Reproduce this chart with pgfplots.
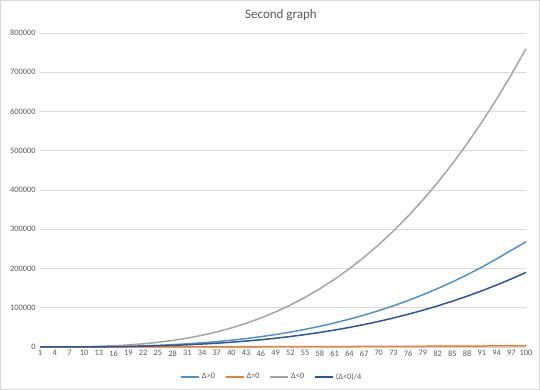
\documentclass[border=0pt]{standalone}
\usepackage{fontspec}
\setmainfont{Carlito}
\usepackage{pgfplots}
\pgfplotsset{compat=1.18}
\definecolor{cpos}{HTML}{5591C4}
\definecolor{czero}{HTML}{ED7D31}
\definecolor{cneg}{HTML}{A5A5A5}
\definecolor{cquart}{HTML}{2F5597}
\definecolor{txt}{HTML}{595959}
\definecolor{grd}{HTML}{D9D9D9}
\begin{document}
\begin{tikzpicture}[x=1pt,y=1pt]
\useasboundingbox (0,0) rectangle (540,390);
\fill[white] (0,0) rectangle (540,390);
\draw[grd,line width=0.8pt] (0.4,0.4) rectangle (539.6,389.6);
\node[txt,font=\fontsize{13}{15}\selectfont] at (281,375) {Second graph};
\begin{axis}[
  at={(40pt,43pt)}, anchor=south west,
  scale only axis, width=486pt, height=314pt,
  xmin=1, xmax=100, ymin=0, ymax=800000,
  xtick={1,4,...,100}, ytick={0,100000,...,800000},
  scaled y ticks=false,
  /pgf/number format/assume math mode=true,
  yticklabel style={/pgf/number format/fixed,/pgf/number format/1000 sep={},font=\fontsize{8.3}{9}\selectfont,text=txt,xshift=-1pt},
  xticklabel style={font=\fontsize{8.3}{9}\selectfont,text=txt},
  ymajorgrids, grid style={grd,line width=0.7pt},
  axis y line*=left, axis x line*=bottom,
  y axis line style={draw=none},
  x axis line style={grd,line width=0.8pt},
  major tick length=0pt,
  xtick style={draw=none}, ytick style={draw=none},
  clip=false,
  legend columns=4,
  legend style={at={(0.477,-0.095)},anchor=center,draw=none,fill=none,
    font=\fontsize{8.3}{9}\selectfont,text=txt,
    /tikz/every even column/.append style={column sep=8pt}},
  legend image code/.code={\draw[#1,line width=1.6pt] (0pt,0pt) -- (18pt,0pt);},
  every axis plot/.append style={line width=1.5pt},
]
\addplot[cpos] coordinates {(1,0)(4,17)(7,93)(10,270)(13,593)(16,1106)(19,1852)(22,2875)(25,4219)(28,5927)(31,8044)(34,10612)(37,13676)(40,17280)(43,21467)(46,26281)(49,31765)(52,37964)(55,44921)(58,52680)(61,61285)(64,70779)(67,81206)(70,92610)(73,105035)(76,118524)(79,133121)(82,148869)(85,165814)(88,183997)(91,203464)(94,224258)(97,246422)(100,268000)};
\addlegendentry{Δ>0}
\addplot[czero] coordinates {(1,0)(4,5)(7,15)(10,30)(13,51)(16,77)(19,108)(22,145)(25,188)(28,235)(31,288)(34,347)(37,411)(40,480)(43,555)(46,635)(49,720)(52,811)(55,908)(58,1009)(61,1116)(64,1229)(67,1347)(70,1470)(73,1599)(76,1733)(79,1872)(82,2017)(85,2168)(88,2323)(91,2484)(94,2651)(97,2823)(100,3000)};
\addlegendentry{Δ=0}
\addplot[cneg] coordinates {(1,1)(4,49)(7,261)(10,760)(13,1670)(16,3113)(19,5213)(22,8092)(25,11875)(28,16684)(31,22641)(34,29871)(37,38496)(40,48640)(43,60425)(46,73975)(49,89413)(52,106862)(55,126445)(58,148285)(61,172506)(64,199229)(67,228580)(70,260680)(73,295653)(76,333622)(79,374710)(82,419040)(85,466735)(88,517919)(91,572714)(94,631244)(97,693631)(100,760000)};
\addlegendentry{Δ<0}
\addplot[cquart] coordinates {(1,0)(4,12)(7,65)(10,190)(13,418)(16,778)(19,1303)(22,2023)(25,2969)(28,4171)(31,5660)(34,7468)(37,9624)(40,12160)(43,15106)(46,18494)(49,22353)(52,26716)(55,31611)(58,37071)(61,43127)(64,49807)(67,57145)(70,65170)(73,73913)(76,83406)(79,93678)(82,104760)(85,116684)(88,129480)(91,143179)(94,157811)(97,173408)(100,190000)};
\addlegendentry{(Δ<0)/4}
\end{axis}
\end{tikzpicture}
\end{document}
